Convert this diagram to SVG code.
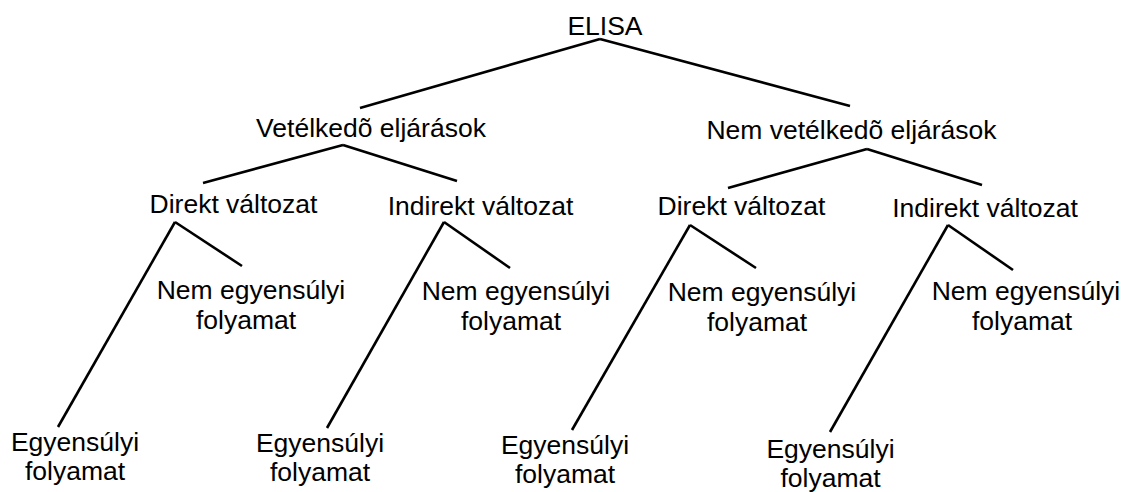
<svg xmlns="http://www.w3.org/2000/svg" width="1122" height="492" viewBox="0 0 1122 492">
<style>
text{font-family:"Liberation Sans",Arial,sans-serif;font-size:26.5px;fill:#000;text-anchor:middle}
.c line{stroke:#000;stroke-width:2.6;stroke-linecap:butt}
</style>
<rect width="1122" height="492" fill="#fff"/>
<g class="c" id="connectors">
<line x1="600" y1="39" x2="360" y2="108"/>
<line x1="600" y1="39" x2="850" y2="106"/>
<line x1="343" y1="145" x2="203" y2="183"/>
<line x1="343" y1="145" x2="457" y2="181"/>
<line x1="867" y1="149" x2="728" y2="188"/>
<line x1="867" y1="149" x2="982" y2="185"/>
<line x1="175" y1="222" x2="58" y2="427"/>
<line x1="175" y1="222" x2="242" y2="266"/>
<line x1="444" y1="222" x2="327" y2="428"/>
<line x1="444" y1="222" x2="510" y2="268"/>
<line x1="690" y1="225" x2="572" y2="430"/>
<line x1="690" y1="225" x2="756" y2="268"/>
<line x1="948" y1="225" x2="830" y2="432"/>
<line x1="948" y1="225" x2="1013" y2="270"/>
</g>
<g id="elisa"><text x="605" y="35">ELISA</text></g>
<g id="vetelkedo"><text x="371" y="137">Vetélkedõ eljárások</text></g>
<g id="nemvetelkedo"><text x="851.5" y="139">Nem vetélkedõ eljárások</text></g>
<g id="direkt1"><text x="233.5" y="213">Direkt változat</text></g>
<g id="indirekt1"><text x="480.5" y="215">Indirekt változat</text></g>
<g id="direkt2"><text x="741.5" y="215">Direkt változat</text></g>
<g id="indirekt2"><text x="985" y="217">Indirekt változat</text></g>
<g id="nem1"><text x="251" y="299">Nem egyensúlyi</text><text x="246" y="329">folyamat</text></g>
<g id="nem2"><text x="516" y="300">Nem egyensúlyi</text><text x="511" y="330">folyamat</text></g>
<g id="nem3"><text x="762" y="301">Nem egyensúlyi</text><text x="757" y="331">folyamat</text></g>
<g id="nem4"><text x="1026" y="300">Nem egyensúlyi</text><text x="1022" y="330">folyamat</text></g>
<g id="egy1"><text x="75" y="451">Egyensúlyi</text><text x="75" y="480">folyamat</text></g>
<g id="egy2"><text x="320" y="452">Egyensúlyi</text><text x="320" y="481">folyamat</text></g>
<g id="egy3"><text x="565" y="454">Egyensúlyi</text><text x="565" y="483">folyamat</text></g>
<g id="egy4"><text x="830.5" y="458">Egyensúlyi</text><text x="830.5" y="487">folyamat</text></g>
</svg>
